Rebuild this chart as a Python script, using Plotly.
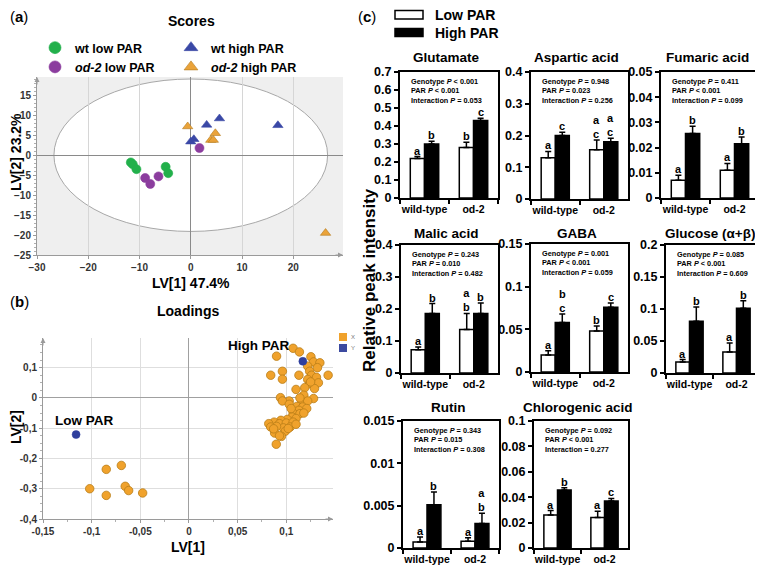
import plotly.graph_objects as go

WIN_W, WIN_H = 763, 568
OFF = 8  # page body margin
W, H = WIN_W - OFF, WIN_H - OFF
FONT = "Liberation Sans, Arial, Helvetica, sans-serif"

# ---------------- (a) Scores ----------------
wt_low_x = [-11.7, -11.3, -10.6, -4.9, -4.4]
wt_low_y = [-1.8, -2.3, -3.5, -2.9, -4.5]
od_low_x = [-8.9, -7.9, -6.3, 1.7]
od_low_y = [-5.7, -7.2, -5.3, 1.8]
wt_high_x = [0.0, 0.6, 3.1, 5.6, 17.0]
wt_high_y = [3.4, 4.0, 7.6, 9.2, 7.5]
od_high_x = [-0.6, 4.8, 3.9, 4.4, 26.3]
od_high_y = [7.2, 5.5, 3.8, 3.8, -19.5]
score_xticks = [-30, -20, -10, 0, 10, 20]
score_yticks = [-25, -20, -15, -10, -5, 0, 5, 10, 15]

# ---------------- (b) Loadings ----------------
load_x_x = [-0.102, -0.085, -0.085, -0.0695, -0.0655, -0.062, -0.0476,
            0.107, 0.1135, 0.090, 0.1253, 0.128, 0.1345, 0.122, 0.132, 0.096, 0.124,
            0.084, 0.113, 0.143, 0.126, 0.096, 0.122, 0.131, 0.124, 0.133, 0.119,
            0.129, 0.110, 0.118, 0.094, 0.128, 0.103, 0.116, 0.096, 0.122, 0.103,
            0.111, 0.117, 0.121, 0.113, 0.107, 0.114, 0.118, 0.106, 0.110, 0.101,
            0.0945, 0.0875, 0.082, 0.093, 0.100, 0.107, 0.104, 0.097, 0.090, 0.084,
            0.110, 0.099, 0.088, 0.095, 0.102, 0.0897, 0.093, 0.087, 0.105, 0.114, 0.125]
load_x_y = [-0.300, -0.236, -0.322, -0.223, -0.292, -0.306, -0.314,
            0.164, 0.152, 0.138, 0.136, 0.119, 0.116, 0.105, 0.100, 0.088, 0.088,
            0.075, 0.075, 0.075, 0.075, 0.062, 0.061, 0.068, 0.047, 0.050, 0.034,
            0.031, 0.028, 0.009, 0.001, -0.002, -0.010, -0.013, -0.010, -0.010, -0.021,
            -0.028, -0.030, -0.035, -0.041, -0.050, -0.052, -0.050, -0.063, -0.068, -0.071,
            -0.074, -0.080, -0.085, -0.085, -0.083, -0.080, -0.096, -0.099, -0.094, -0.096,
            -0.087, -0.110, -0.116, -0.127, -0.101, -0.153, -0.125, -0.102, -0.035, 0.000, 0.053]
load_y_x = [-0.116, 0.117]
load_y_y = [-0.121, 0.121]
load_xticks = [-0.15, -0.1, -0.05, 0, 0.05, 0.1]
load_xtick_text = ["-0,15", "-0,1", "-0,05", "0", "0,05", "0,1"]
load_yticks = [-0.4, -0.3, -0.2, -0.1, 0, 0.1]
load_ytick_text = ["-0,4", "-0,3", "-0,2", "-0,1", "0", "0,1"]

# ---------------- (c) Bars ----------------
genotypes = ["wild-type", "od-2"]
metabolites = ["Glutamate", "Aspartic acid", "Fumaric acid", "Malic acid",
               "GABA", "Glucose (α+β)", "Rutin", "Chlorogenic acid"]
low_wt = [0.22, 0.13, 0.007, 0.073, 0.020, 0.017, 0.0007, 0.026]
low_od2 = [0.28, 0.155, 0.011, 0.136, 0.048, 0.033, 0.0008, 0.024]
high_wt = [0.30, 0.20, 0.0256, 0.186, 0.058, 0.081, 0.0051, 0.0457]
high_od2 = [0.43, 0.18, 0.0215, 0.186, 0.076, 0.101, 0.0029, 0.037]
se_low_wt = [0.01, 0.02, 0.002, 0.008, 0.005, 0.004, 0.0006, 0.0035]
se_low_od2 = [0.03, 0.031, 0.0027, 0.05, 0.006, 0.014, 0.0004, 0.005]
se_high_wt = [0.015, 0.01, 0.0029, 0.031, 0.010, 0.022, 0.0015, 0.0018]
se_high_od2 = [0.013, 0.011, 0.0027, 0.033, 0.005, 0.012, 0.0012, 0.002]
let_low_wt = ["a", "a", "a", "a", "a", "a", "a", "a"]
let_high_wt = ["b", "c", "b", "b", "b<br>c", "b", "b", "b"]
let_low_od2 = ["b", "a<br>c", "a", "a<br>b", "b", "a", "a", "a"]
let_high_od2 = ["c", "a<br>c", "b", "b", "c", "b", "a<br>b", "c"]
geno_p = ["< 0.001", "= 0.948", "= 0.411", "= 0.243", "= 0.001", "= 0.085", "= 0.343", "= 0.092"]
par_p = ["< 0.001", "= 0.023", "< 0.001", "= 0.010", "< 0.001", "< 0.001", "= 0.015", "< 0.001"]
inter_p = ["= 0.053", "= 0.256", "= 0.099", "= 0.482", "= 0.059", "= 0.609", "= 0.308", "= 0.277"]
inter_has_p = [True, True, True, True, True, True, True, False]
y_max = [0.7, 0.4, 0.05, 0.4, 0.15, 0.2, 0.015, 0.1]
y_step = [0.1, 0.1, 0.01, 0.1, 0.05, 0.05, 0.005, 0.02]

# ---------------- layout helpers (window pixels -> paper) ----------------
def px(x):
    return (x - OFF) / W

def py(y):
    return 1 - (y - OFF) / H

def dom_x(a, b):
    return [px(a), px(b)]

def dom_y(top, bottom):
    return [py(bottom), py(top)]

fig = go.Figure()
annotations = []
shapes = []
layout = dict(
    width=W, height=H, autosize=False,
    margin=dict(l=0, r=0, t=0, b=0, pad=0, autoexpand=False),
    paper_bgcolor="white", plot_bgcolor="white",
    font=dict(family=FONT, color="black"),
    barmode="group", bargap=0.42, bargroupgap=0,
)

def ann(text, x, y, size, bold=True, xanchor="center", yanchor="middle", angle=0, color="black", **kw):
    annotations.append(dict(text=text, x=x, y=y, xref="paper", yref="paper", showarrow=False,
                            xanchor=xanchor, yanchor=yanchor, textangle=angle,
                            font=dict(size=size, family=FONT, color=color,
                                      weight="bold" if bold else "normal"), **kw))

# ---------------- (a) Scores ----------------
sx0, sx1, sy0, sy1 = 37, 343, 77, 255
axfont = dict(size=10, family=FONT, color="#333", weight="bold")
layout["xaxis"] = dict(domain=dom_x(sx0, sx1), anchor="y", range=[-30, 29.7], tickvals=score_xticks,
                       tickfont=axfont, showgrid=True, gridcolor="#d6d6d6", zeroline=True,
                       zerolinecolor="#8a8a8a", zerolinewidth=1, showline=True, linecolor="#9a9a9a",
                       ticks="outside", ticklen=3, tickcolor="#9a9a9a")
layout["yaxis"] = dict(domain=dom_y(sy0, sy1), anchor="x", range=[-25, 19.6], tickvals=score_yticks,
                       tickfont=axfont, showgrid=False, zeroline=True, zerolinecolor="#8a8a8a",
                       zerolinewidth=1, showline=True, linecolor="#9a9a9a",
                       ticks="outside", ticklen=3, tickcolor="#9a9a9a",
                       minor=dict(ticks="outside", ticklen=2, dtick=1, tickcolor="#b0b0b0"))
shapes.append(dict(type="rect", xref="x domain", yref="y domain", x0=0, x1=1, y0=0, y1=1,
                   fillcolor="#efefef", line=dict(width=0), layer="below"))
shapes.append(dict(type="circle", xref="x", yref="y", x0=-26.7, x1=26.7, y0=-19.1, y1=19.1,
                   fillcolor="white", line=dict(color="#a8a8a8", width=1), layer="below"))

score_groups = [
    (wt_low_x, wt_low_y, "circle", "#22b04b", "#22b04b", "wt low PAR", "legend"),
    (od_low_x, od_low_y, "circle", "#8b3d9e", "#8b3d9e", "<i>od-2</i> low PAR", "legend"),
    (wt_high_x, wt_high_y, "triangle-up", "#3a48a6", "#3a48a6", "wt high PAR", "legend2"),
    (od_high_x, od_high_y, "triangle-up", "#eaa33a", "#b47a1c", "<i>od-2</i> high PAR", "legend2"),
]
for xs, ys, sym, col, lc, name, lg in score_groups:
    fig.add_trace(go.Scatter(x=xs, y=ys, mode="markers", xaxis="x", yaxis="y", showlegend=False,
                             marker=dict(symbol=sym, size=9, color=col, line=dict(color=lc, width=0.6))))
    fig.add_trace(go.Scatter(x=[None], y=[None], mode="markers", xaxis="x", yaxis="y", name=name,
                             legend=lg, showlegend=True,
                             marker=dict(symbol=sym, size=12, color=col, line=dict(color=lc, width=0.6))))

legfont = dict(size=12.5, family=FONT, color="black", weight="bold")
layout["legend"] = dict(x=px(35), y=py(33), xanchor="left", yanchor="top", font=legfont,
                        bgcolor="rgba(0,0,0,0)", tracegroupgap=0, itemwidth=30)
layout["legend2"] = dict(x=px(171), y=py(33), xanchor="left", yanchor="top", font=legfont,
                         bgcolor="rgba(0,0,0,0)", tracegroupgap=0, itemwidth=30)

ann("(<b>a</b>)", px(8), py(17), 15, bold=False, xanchor="left")
ann("Scores", px(191), py(21), 14)
ann("LV[1] 47.4%", px(191), py(283), 14)
ann("LV[2] 23.2%", px(16), py(152), 14, angle=-90)
annotations.append(dict(x=29.7, y=-25, xref="x", yref="y", ax=-9, ay=0, text="", showarrow=True,
                        arrowhead=2, arrowsize=1, arrowwidth=1, arrowcolor="#9a9a9a"))
annotations.append(dict(x=-30, y=19.6, xref="x", yref="y", ax=0, ay=9, text="", showarrow=True,
                        arrowhead=2, arrowsize=1, arrowwidth=1, arrowcolor="#9a9a9a"))

# ---------------- (b) Loadings ----------------
lx0, lx1, ly0, ly1 = 43, 333, 338, 519
layout["xaxis2"] = dict(domain=dom_x(lx0, lx1), anchor="y2", range=[-0.15, 0.148],
                        tickvals=load_xticks, ticktext=load_xtick_text, tickfont=axfont,
                        showgrid=True, gridcolor="#dedede", zeroline=True, zerolinecolor="#a0a0a0",
                        zerolinewidth=1, showline=True, linecolor="#9a9a9a", ticks="outside",
                        ticklen=3, tickcolor="#9a9a9a",
                        minor=dict(ticks="outside", ticklen=2, dtick=0.025, tick0=0, tickcolor="#b0b0b0"))
layout["yaxis2"] = dict(domain=dom_y(ly0, ly1), anchor="x2", range=[-0.4, 0.198],
                        tickvals=load_yticks, ticktext=load_ytick_text, tickfont=axfont,
                        showgrid=True, gridcolor="#dedede", zeroline=True, zerolinecolor="#a0a0a0",
                        zerolinewidth=1, showline=True, linecolor="#9a9a9a", ticks="outside",
                        ticklen=3, tickcolor="#9a9a9a",
                        minor=dict(ticks="outside", ticklen=2, dtick=0.025, tick0=0, tickcolor="#b0b0b0"))
fig.add_trace(go.Scatter(x=load_x_x, y=load_x_y, mode="markers", xaxis="x2", yaxis="y2", showlegend=False,
                         marker=dict(size=8.5, color="#f0a22c", line=dict(color="#b97d18", width=0.8))))
fig.add_trace(go.Scatter(x=load_y_x, y=load_y_y, mode="markers", xaxis="x2", yaxis="y2", showlegend=False,
                         marker=dict(size=8, color="#2f3f9d", line=dict(color="#2f3f9d", width=0.5))))
# small X / Y key
shapes.append(dict(type="rect", xref="paper", yref="paper", x0=px(339), x1=px(347), y0=py(341), y1=py(333),
                   fillcolor="#f0a22c", line=dict(width=0)))
shapes.append(dict(type="rect", xref="paper", yref="paper", x0=px(339), x1=px(347), y0=py(352), y1=py(344),
                   fillcolor="#3c4aa0", line=dict(width=0)))
ann("X", px(349), py(337), 6, bold=False, xanchor="left", color="#777")
ann("Y", px(349), py(348), 6, bold=False, xanchor="left", color="#777")

ann("(<b>b</b>)", px(8), py(301), 15, bold=False, xanchor="left")
ann("Loadings", px(188), py(311), 14)
ann("LV[1]", px(188), py(547), 14)
ann("LV[2]", px(16), py(427), 14, angle=-90)
ann("High PAR", px(258), py(345), 13.5)
ann("Low PAR", px(84), py(420), 13.5)
annotations.append(dict(x=0.148, y=-0.4, xref="x2", yref="y2", ax=-9, ay=0, text="", showarrow=True,
                        arrowhead=2, arrowsize=1, arrowwidth=1, arrowcolor="#9a9a9a"))
annotations.append(dict(x=-0.15, y=0.198, xref="x2", yref="y2", ax=0, ay=9, text="", showarrow=True,
                        arrowhead=2, arrowsize=1, arrowwidth=1, arrowcolor="#9a9a9a"))

# ---------------- (c) Bars ----------------
boxes = [(400, 498, 72, 198), (531, 628, 72, 199), (661, 759, 72, 198),
         (401, 498, 245, 373), (531, 628, 244, 372), (666, 760, 245, 373),
         (403, 499, 421, 548), (534, 628, 421, 548)]
title_y = [57, 57, 57, 233, 233, 233, 407, 407]
bold12 = dict(size=12.5, family=FONT, color="black", weight="bold")
for k, name in enumerate(metabolites):
    n = k + 3
    xa, ya = f"x{n}", f"y{n}"
    x0, x1, t, b = boxes[k]
    nt = int(round(y_max[k] / y_step[k]))
    tv = [round(i * y_step[k], 6) for i in range(nt + 1)]
    layout[f"xaxis{n}"] = dict(domain=dom_x(x0, x1), anchor=ya, type="category",
                               categoryorder="array", categoryarray=genotypes, range=[-0.5, 1.5],
                               tickson="boundaries", ticks="outside", ticklen=4, tickwidth=1.5,
                               tickcolor="black", showline=True, linewidth=2, linecolor="black",
                               mirror=True, showgrid=False, tickangle=0,
                               tickfont=dict(size=10.5, family=FONT, color="black", weight="bold"))
    layout[f"yaxis{n}"] = dict(domain=dom_y(t, b), anchor=xa, range=[0, y_max[k]], tickvals=tv,
                               ticktext=[f"{v:g}" for v in tv], ticks="outside", ticklen=4,
                               tickwidth=1.5, tickcolor="black", showline=True, linewidth=2,
                               linecolor="black", mirror=True, showgrid=False, zeroline=False,
                               tickfont=bold12)
    fig.add_trace(go.Bar(x=genotypes, y=[low_wt[k], low_od2[k]], xaxis=xa, yaxis=ya, name="Low PAR",
                         showlegend=False, marker=dict(color="white", line=dict(color="black", width=1.5)),
                         error_y=dict(type="data", array=[se_low_wt[k], se_low_od2[k]], arrayminus=[0, 0],
                                      symmetric=False, color="black", thickness=1.5, width=3)))
    fig.add_trace(go.Bar(x=genotypes, y=[high_wt[k], high_od2[k]], xaxis=xa, yaxis=ya, name="High PAR",
                         showlegend=False, marker=dict(color="black", line=dict(color="black", width=1.5)),
                         error_y=dict(type="data", array=[se_high_wt[k], se_high_od2[k]], arrayminus=[0, 0],
                                      symmetric=False, color="black", thickness=1.5, width=3)))
    tops = [(0 - 0.145, low_wt[k] + se_low_wt[k], let_low_wt[k]),
            (0 + 0.145, high_wt[k] + se_high_wt[k], let_high_wt[k]),
            (1 - 0.145, low_od2[k] + se_low_od2[k], let_low_od2[k]),
            (1 + 0.145, high_od2[k] + se_high_od2[k], let_high_od2[k])]
    for xv, yv, txt in tops:
        annotations.append(dict(x=xv, y=yv, xref=xa, yref=ya, text=txt, showarrow=False,
                                xanchor="center", yanchor="bottom", yshift=-2,
                                font=dict(size=11, family=FONT, color="black", weight="bold")))
    inter = "Interaction <i>P</i> " + inter_p[k] if inter_has_p[k] else "Interaction " + inter_p[k]
    ptxt = ("Genotype <i>P</i> " + geno_p[k] + "<br>PAR <i>P</i> " + par_p[k] + "<br>" + inter)
    annotations.append(dict(x=px(x0 + 9), y=py(t + 3), xref="paper", yref="paper", text=ptxt,
                            showarrow=False, xanchor="left", yanchor="top", align="left",
                            font=dict(size=7.3, family=FONT, color="black", weight="bold")))
    ann(name, px((x0 + x1) / 2 - 3), py(title_y[k]), 13.5)

ann("Relative peak intensity", px(369), py(280), 17, angle=-90)
ann("(<b>c</b>)", px(356), py(17), 15, bold=False, xanchor="left")
shapes.append(dict(type="rect", xref="paper", yref="paper", x0=px(395), x1=px(423), y0=py(19), y1=py(10.5),
                   fillcolor="white", line=dict(color="black", width=1.5)))
shapes.append(dict(type="rect", xref="paper", yref="paper", x0=px(395), x1=px(423), y0=py(36.5), y1=py(28.5),
                   fillcolor="black", line=dict(color="black", width=1.5)))
ann("Low PAR", px(433), py(15), 14, xanchor="left")
ann("High PAR", px(433), py(33), 14, xanchor="left")

layout["annotations"] = annotations
layout["shapes"] = shapes
fig.update_layout(**layout)
fig.write_html("out.html")
